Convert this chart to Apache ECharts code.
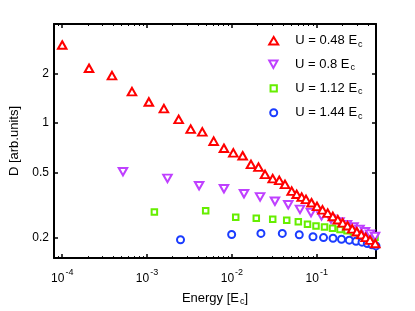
<!DOCTYPE html>
<html>
<head>
<meta charset="utf-8">
<script src="https://cdn.jsdelivr.net/npm/echarts@6/dist/echarts.min.js"></script>
<style>
html,body{margin:0;padding:0;background:#fff;}
#chart{width:415px;height:311px;}
</style>
</head>
<body>
<div id="chart"></div>
<script>
// ---- data ----
const seriesNames = ['U = 0.48 E', 'U = 0.8 E', 'U = 1.12 E', 'U = 1.44 E'];

const energyU048 = [1.0e-4, 2.07e-4, 3.86e-4, 6.64e-4, 1.05e-3, 1.58e-3, 2.36e-3, 3.27e-3, 4.48e-3, 6.10e-3, 8.06e-3, 1.04e-2, 1.34e-2, 1.68e-2, 2.06e-2, 2.46e-2, 3.03e-2, 3.62e-2, 4.23e-2, 5.07e-2, 5.81e-2, 6.65e-2, 7.48e-2, 0.0868, 0.1008, 0.117, 0.1348, 0.1548, 0.1773, 0.2025, 0.2307, 0.2622, 0.297, 0.3357, 0.378, 0.425, 0.49];
const dU048 = [2.98, 2.15, 1.94, 1.55, 1.34, 1.22, 1.05, 0.916, 0.881, 0.773, 0.700, 0.656, 0.630, 0.558, 0.537, 0.485, 0.457, 0.446, 0.422, 0.384, 0.367, 0.353, 0.342, 0.326, 0.310, 0.295, 0.282, 0.269, 0.257, 0.246, 0.236, 0.226, 0.217, 0.2085, 0.2006, 0.193, 0.184];

const energyU080 = [5.2e-4, 1.74e-3, 4.11e-3, 8.07e-3, 1.39e-2, 2.15e-2, 3.22e-2, 4.62e-2, 6.35e-2, 8.57e-2, 0.1139, 0.1474, 0.1857, 0.2277, 0.2716, 0.3197, 0.371, 0.425, 0.487];
const dU080 = [0.504, 0.459, 0.414, 0.397, 0.370, 0.354, 0.333, 0.317, 0.297, 0.284, 0.271, 0.259, 0.249, 0.240, 0.232, 0.224, 0.217, 0.210, 0.203];

const energyU112 = [1.22e-3, 4.91e-3, 1.11e-2, 1.94e-2, 3.03e-2, 4.43e-2, 6.07e-2, 7.79e-2, 9.81e-2, 0.1236, 0.1536, 0.1883, 0.2277, 0.2716, 0.3197, 0.371, 0.425, 0.487];
const dU112 = [0.286, 0.291, 0.266, 0.262, 0.259, 0.255, 0.250, 0.241, 0.2355, 0.232, 0.228, 0.224, 0.220, 0.216, 0.212, 0.208, 0.205, 0.201];

const energyU144 = [2.48e-3, 9.94e-3, 2.2e-2, 3.93e-2, 6.23e-2, 9.04e-2, 0.1203, 0.1557, 0.196, 0.2423, 0.2906, 0.342, 0.395, 0.449, 0.50];
const dU144 = [0.194, 0.209, 0.212, 0.212, 0.208, 0.2025, 0.200, 0.198, 0.1955, 0.193, 0.190, 0.1875, 0.184, 0.181, 0.178];

const xRange = [8e-5, 0.5];
const yRange = [0.15, 4];
const xMajorTicks = [1e-4, 1e-3, 1e-2, 1e-1];
const yTicks = [0.2, 0.5, 1, 2];

// ---- helpers ----
const L = Math.log10;
const xMinorTicks = [];
for (let d = -5; d <= -1; d++) {
  for (let k = 2; k <= 9; k++) {
    const v = k * Math.pow(10, d);
    if (v > xRange[0] && v < xRange[1]) xMinorTicks.push(v);
  }
}
const toPts = (xs, ys) => xs.map((x, i) => [L(x), L(ys[i])]);

const FONT = '"Liberation Sans", Arial, Helvetica, sans-serif';
const black = '#000';

const baseX = { type: 'value', min: L(xRange[0]), max: L(xRange[1]), splitLine: { show: false } };
const baseY = { type: 'value', min: L(yRange[0]), max: L(yRange[1]), splitLine: { show: false } };

// one legend block per entry so each icon keeps its own size
const legendIcon = [[9, 7.5], [9, 7.5], [6.3, 6.3], [7, 7]];
const legendIconPath = [null, 'path://M0,0 L10,0 L5,9 Z', null, null];
const legendCenterY = [40.7, 64.3, 88.3, 112.7];
const legendIconX = 272.7, legendTextX = 294.3;
const legends = seriesNames.map((n, i) => {
  const w = legendIcon[i][0], h = legendIcon[i][1];
  const left = legendIconX - w / 2;
  const pad = legendTextX - (left + w + 5);
  const item = legendIconPath[i] ? { name: n, icon: legendIconPath[i] } : { name: n };
  return {
    orient: 'vertical', left: left, top: legendCenterY[i] - 8, padding: 0,
    itemWidth: w, itemHeight: h,
    data: [item],
    formatter: s => '{a|' + s + '}{s|c}',
    textStyle: {
      fontFamily: FONT, color: '#000',
      rich: {
        a: { fontSize: 13, fontFamily: FONT, color: '#000', lineHeight: 16, verticalAlign: 'middle', padding: [0, 0, 0, pad] },
        s: { fontSize: 9, fontFamily: FONT, color: '#000', lineHeight: 9, verticalAlign: 'bottom', padding: [7, 0, 0, 1] }
      }
    }
  };
});

const chart = echarts.init(document.getElementById('chart'), null, { renderer: 'canvas' });

const option = {
  animation: false,
  backgroundColor: '#fff',
  textStyle: { fontFamily: FONT },
  grid: { left: 54, right: 39, top: 24, bottom: 52, containLabel: false },
  legend: legends,
  xAxis: [
    Object.assign({}, baseX, {
      position: 'bottom',
      name: '{n|Energy [E}{s|c}{n|]}',
      nameLocation: 'middle', nameGap: 25,
      nameTextStyle: {
        rich: {
          n: { fontSize: 13, fontFamily: FONT, color: '#000', lineHeight: 16, verticalAlign: 'middle' },
          s: { fontSize: 9, fontFamily: FONT, color: '#000', lineHeight: 9, verticalAlign: 'bottom', padding: [7, 0, 0, 1] }
        }
      },
      axisLine: { show: true, onZero: false, lineStyle: { color: black, width: 2 } },
      axisTick: { show: true, inside: true, length: 4, customValues: xMajorTicks.map(L), lineStyle: { color: black, width: 1.5 } },
      axisLabel: {
        show: true, margin: 13,
        customValues: xMajorTicks.map(L),
        formatter: v => '{b|10}{e|' + Math.round(v) + '}',
        rich: {
          b: { fontSize: 12, fontFamily: FONT, color: '#000', lineHeight: 14, verticalAlign: 'bottom' },
          e: { fontSize: 9, fontFamily: FONT, color: '#000', lineHeight: 10, verticalAlign: 'bottom', padding: [0, 0, 8, 1] }
        }
      }
    }),
    Object.assign({}, baseX, {
      position: 'bottom',
      axisLine: { show: false, onZero: false },
      axisTick: { show: true, inside: true, length: 2, customValues: xMinorTicks.map(L), lineStyle: { color: black, width: 1 } },
      axisLabel: { show: false }
    }),
    Object.assign({}, baseX, {
      position: 'top',
      axisLine: { show: true, onZero: false, lineStyle: { color: black, width: 2 } },
      axisTick: { show: true, inside: true, length: 4, customValues: xMajorTicks.map(L), lineStyle: { color: black, width: 1.5 } },
      axisLabel: { show: false }
    }),
    Object.assign({}, baseX, {
      position: 'top',
      axisLine: { show: false, onZero: false },
      axisTick: { show: true, inside: true, length: 2, customValues: xMinorTicks.map(L), lineStyle: { color: black, width: 1 } },
      axisLabel: { show: false }
    })
  ],
  yAxis: [
    Object.assign({}, baseY, {
      position: 'left',
      name: 'D [arb.units]',
      nameLocation: 'middle', nameGap: 27,
      nameTextStyle: { fontSize: 13, fontFamily: FONT, color: '#000' },
      axisLine: { show: true, onZero: false, lineStyle: { color: black, width: 2 } },
      axisTick: { show: true, inside: true, length: 4, customValues: yTicks.map(L), lineStyle: { color: black, width: 1.5 } },
      axisLabel: {
        show: true, margin: 5, fontSize: 12, fontFamily: FONT, color: '#000',
        customValues: yTicks.map(L),
        formatter: v => String(Number(Math.pow(10, v).toPrecision(2)))
      }
    }),
    Object.assign({}, baseY, {
      position: 'right',
      axisLine: { show: true, onZero: false, lineStyle: { color: black, width: 2 } },
      axisTick: { show: true, inside: true, length: 4, customValues: yTicks.map(L), lineStyle: { color: black, width: 1.5 } },
      axisLabel: { show: false }
    })
  ],
  series: [
    {
      name: seriesNames[0], type: 'scatter', clip: false, z: 5,
      symbol: 'triangle', symbolSize: [8.5, 7.5],
      itemStyle: { color: '#fff', borderColor: '#ff0000', borderWidth: 2, opacity: 1 },
      data: toPts(energyU048, dU048)
    },
    {
      name: seriesNames[1], type: 'scatter', clip: false, z: 4,
      symbol: 'triangle', symbolRotate: 180, symbolSize: [8.5, 7.5],
      itemStyle: { color: '#fff', borderColor: '#bf40ff', borderWidth: 2, opacity: 1 },
      data: toPts(energyU080, dU080)
    },
    {
      name: seriesNames[2], type: 'scatter', clip: false, z: 3,
      symbol: 'rect', symbolSize: 5.5,
      itemStyle: { color: '#fff', borderColor: '#66ee00', borderWidth: 2, opacity: 1 },
      data: toPts(energyU112, dU112)
    },
    {
      name: seriesNames[3], type: 'scatter', clip: false, z: 3,
      symbol: 'circle', symbolSize: 7,
      itemStyle: { color: '#fff', borderColor: '#1a3cff', borderWidth: 2, opacity: 1 },
      data: toPts(energyU144, dU144)
    }
  ]
};

chart.setOption(option);
</script>
</body>
</html>
